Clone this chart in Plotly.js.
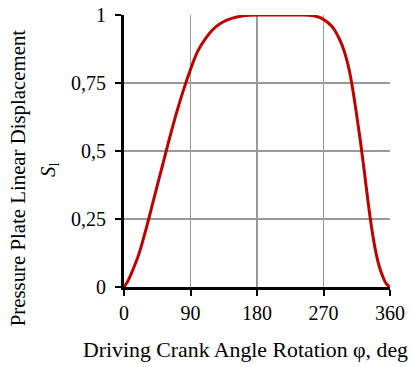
<!DOCTYPE html>
<html>
<head>
<meta charset="utf-8">
<script src="https://cdn.plot.ly/plotly-3.0.1.min.js"></script>
<style>
  html, body { margin: 0; padding: 0; background: #fff; }
  #chart { width: 411px; height: 367px; }
</style>
</head>
<body>
<div id="chart"></div>
<script>
// Crank angle (deg) and relative linear displacement of the pressure plate
const crankAngle = [0, 5, 10, 20, 30, 40, 50, 60, 70, 80, 90, 100, 110, 120, 130, 140, 150, 160, 170, 180,
                    190, 200, 210, 220, 230, 240, 250, 260, 270, 280, 285, 290, 295, 300, 305, 310, 315,
                    320, 325, 330, 335, 340, 345, 350, 355, 360];
const displacement = [0, 0.02, 0.05, 0.12, 0.215, 0.32, 0.425, 0.53, 0.63, 0.72, 0.80, 0.868, 0.912, 0.946, 0.968, 0.982, 0.991, 0.996, 0.999, 1,
                      1, 1, 1, 1, 1, 1, 0.999, 0.995, 0.984, 0.962, 0.945, 0.92, 0.89, 0.85, 0.795, 0.72, 0.63,
                      0.535, 0.43, 0.32, 0.22, 0.14, 0.08, 0.04, 0.012, 0];

const xTickVals = [0, 90, 180, 270, 360];
const xTickText = ['0', '90', '180', '270', '360'];
const yTickVals = [0, 0.25, 0.5, 0.75, 1];
const yTickText = ['0', '0,25', '0,5', '0,75', '1'];

const xTitle = 'Driving Crank Angle Rotation φ, deg';
const yTitle = 'Pressure Plate Linear Displacement';
const ySymbol = '<i>S</i><sub>l</sub>';

const serif = 'Liberation Serif, Times New Roman, serif';
const textFont = { family: serif, size: 20, color: '#000' };

const trace = {
  x: crankAngle,
  y: displacement,
  type: 'scatter',
  mode: 'lines',
  line: { color: '#C00000', width: 3, shape: 'spline', smoothing: 1 },
  hoverinfo: 'skip'
};

const axisStyle = {
  ticks: 'outside',
  ticklen: 6,
  tickwidth: 2,
  tickcolor: '#000',
  showline: true,
  linecolor: '#000',
  linewidth: 3,
  showgrid: true,
  gridcolor: '#999',
  gridwidth: 1.5,
  zeroline: false,
  tickfont: textFont,
  fixedrange: true
};

const layout = {
  width: 411,
  height: 367,
  margin: { l: 124, r: 21, t: 15, b: 80 },
  paper_bgcolor: '#fff',
  plot_bgcolor: '#fff',
  showlegend: false,
  font: textFont,
  xaxis: Object.assign({}, axisStyle, {
    range: [0, 360],
    tickvals: xTickVals,
    ticktext: xTickText
  }),
  yaxis: Object.assign({}, axisStyle, {
    range: [0, 1],
    tickvals: yTickVals,
    ticktext: yTickText,
    ticklabelstandoff: 5
  }),
  annotations: [
    {
      text: xTitle, xref: 'paper', yref: 'paper',
      x: 0.4586, y: -0.2316, xanchor: 'center', yanchor: 'middle',
      showarrow: false, font: { family: serif, size: 21.8, color: '#000' }
    },
    {
      text: yTitle, xref: 'paper', yref: 'paper', textangle: -90,
      x: -0.3985, y: 0.40, xanchor: 'center', yanchor: 'middle',
      showarrow: false, font: { family: serif, size: 20.8, color: '#000' }
    },
    {
      text: ySymbol, xref: 'paper', yref: 'paper', textangle: -90,
      x: -0.282, y: 0.43, xanchor: 'center', yanchor: 'middle',
      showarrow: false, font: { family: serif, size: 20.8, color: '#000' }
    }
  ]
};

Plotly.newPlot('chart', [trace], layout, { displayModeBar: false, staticPlot: true });
</script>
</body>
</html>
